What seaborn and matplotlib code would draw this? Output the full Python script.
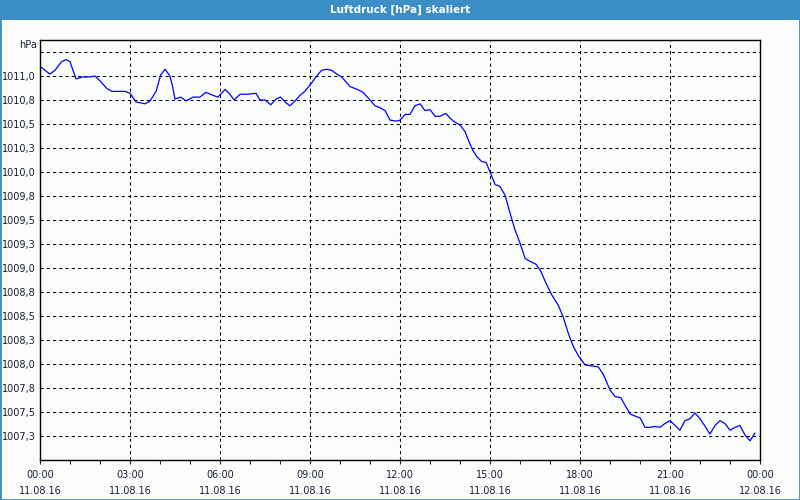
import matplotlib
matplotlib.use("Agg")
import matplotlib.pyplot as plt
from matplotlib.patches import Rectangle
from matplotlib.ticker import MultipleLocator
import seaborn as sns
import pandas as pd

# ---- data -------------------------------------------------------------
title = "Luftdruck [hPa] skaliert"
unit_label = "hPa"

hours = [0.0, 0.33, 0.5, 0.72, 0.87, 1.0, 1.2, 1.43, 1.67, 1.83, 2.0, 2.23, 2.4,
         2.67, 2.83, 3.0, 3.2, 3.5, 3.67, 3.87, 4.02, 4.17, 4.33, 4.42, 4.5,
         4.69, 4.87, 5.1, 5.33, 5.53, 5.76, 5.93, 6.17, 6.33, 6.47, 6.67, 6.93,
         7.2, 7.33, 7.5, 7.69, 7.87, 8.02, 8.2, 8.33, 8.5, 8.67, 8.83, 9.06,
         9.22, 9.39, 9.56, 9.72, 9.89, 10.06, 10.33, 10.5, 10.77, 11.0, 11.17,
         11.33, 11.5, 11.67, 11.89, 12.0, 12.17, 12.33, 12.5, 12.67, 12.83,
         13.0, 13.17, 13.33, 13.53, 13.67, 13.83, 14.0, 14.17, 14.28, 14.42,
         14.56, 14.72, 14.87, 15.0, 15.17, 15.33, 15.5, 15.67, 15.83, 16.0,
         16.17, 16.33, 16.53, 16.67, 16.87, 17.06, 17.28, 17.44, 17.61, 17.78,
         17.94, 18.17, 18.39, 18.61, 18.78, 19.0, 19.17, 19.36, 19.5, 19.67,
         19.89, 20.0, 20.17, 20.33, 20.5, 20.67, 20.83, 21.0, 21.17, 21.33,
         21.5, 21.67, 21.83, 22.0, 22.17, 22.33, 22.5, 22.67, 22.83, 23.0,
         23.17, 23.33, 23.5, 23.67, 23.83]

pressure = [1011.10, 1011.02, 1011.06, 1011.15, 1011.17, 1011.15, 1010.97,
            1010.99, 1010.99, 1011.00, 1010.95, 1010.87, 1010.84, 1010.84,
            1010.84, 1010.82, 1010.73, 1010.71, 1010.74, 1010.84, 1011.01,
            1011.07, 1011.00, 1010.89, 1010.76, 1010.78, 1010.74, 1010.78,
            1010.78, 1010.83, 1010.80, 1010.78, 1010.86, 1010.81, 1010.75,
            1010.81, 1010.81, 1010.82, 1010.75, 1010.75, 1010.70, 1010.76,
            1010.78, 1010.72, 1010.69, 1010.74, 1010.80, 1010.84, 1010.93,
            1011.00, 1011.06, 1011.07, 1011.06, 1011.02, 1010.99, 1010.89,
            1010.87, 1010.83, 1010.75, 1010.69, 1010.67, 1010.64, 1010.54,
            1010.53, 1010.54, 1010.60, 1010.60, 1010.69, 1010.71, 1010.64,
            1010.65, 1010.58, 1010.58, 1010.61, 1010.56, 1010.52, 1010.49,
            1010.42, 1010.33, 1010.23, 1010.16, 1010.11, 1010.10, 1010.00,
            1009.87, 1009.85, 1009.76, 1009.57, 1009.40, 1009.26, 1009.10,
            1009.07, 1009.04, 1008.98, 1008.84, 1008.72, 1008.61, 1008.49,
            1008.32, 1008.18, 1008.09, 1007.99, 1007.98, 1007.97, 1007.89,
            1007.73, 1007.66, 1007.65, 1007.57, 1007.48, 1007.45, 1007.44,
            1007.34, 1007.34, 1007.35, 1007.34, 1007.38, 1007.41, 1007.36,
            1007.31, 1007.41, 1007.43, 1007.49, 1007.43, 1007.35, 1007.27,
            1007.36, 1007.41, 1007.38, 1007.31, 1007.34, 1007.36, 1007.26,
            1007.20, 1007.28]

y_ticks = [1007.25, 1007.5, 1007.75, 1008.0, 1008.25, 1008.5, 1008.75,
           1009.0, 1009.25, 1009.5, 1009.75, 1010.0, 1010.25, 1010.5,
           1010.75, 1011.0, 1011.25]
y_labels = ["1007,3", "1007,5", "1007,8", "1008,0", "1008,3", "1008,5",
            "1008,8", "1009,0", "1009,3", "1009,5", "1009,8", "1010,0",
            "1010,3", "1010,5", "1010,8", "1011,0", ""]

x_ticks = [0, 3, 6, 9, 12, 15, 18, 21, 24]
x_labels = ["00:00\n11.08.16", "03:00\n11.08.16", "06:00\n11.08.16",
            "09:00\n11.08.16", "12:00\n11.08.16", "15:00\n11.08.16",
            "18:00\n11.08.16", "21:00\n11.08.16", "00:00\n12.08.16"]

# ---- style ------------------------------------------------------------
sns.set_style("white")
plt.rcParams["font.family"] = ["DejaVu Sans"]

BLUE_BAR = "#3c8fc6"
TEXT = "#1c1c3a"

fig = plt.figure(figsize=(8, 5), dpi=100)
fig.patch.set_facecolor("#fbfdfb")

# title bar
fig.patches.append(Rectangle((0, 480 / 500), 1, 20 / 500, transform=fig.transFigure,
                             facecolor=BLUE_BAR, edgecolor="none", zorder=0))
fig.text(0.5, 490 / 500, title, color="white", ha="center", va="center",
         fontsize=7.5, fontweight="bold")
# outer border
fig.patches.append(Rectangle((0, 0), 1, 1, transform=fig.transFigure, fill=False,
                             edgecolor=BLUE_BAR, linewidth=2, zorder=5))

ax = fig.add_axes([40 / 800, 40 / 500, 720 / 800, 420 / 500])
ax.set_facecolor("#fbfdfb")

df = pd.DataFrame({"h": hours, "p": pressure})
sns.lineplot(data=df, x="h", y="p", ax=ax, color="#0000ff", linewidth=0.9)

ax.set_xlim(0, 24)
ax.set_ylim(1007.0, 1011.375)

ax.set_yticks(y_ticks)
ax.set_yticklabels(y_labels)
ax.set_xticks(x_ticks)
ax.set_xticklabels(x_labels, linespacing=1.75)
ax.xaxis.set_minor_locator(MultipleLocator(1))

ax.grid(True, which="major", color="black", linewidth=0.75, linestyle=(0, (3, 3)))
ax.set_axisbelow(True)

for s in ax.spines.values():
    s.set_visible(True)
    s.set_color("black")
    s.set_linewidth(1.0)

ax.tick_params(axis="y", which="both", length=0, pad=3, labelsize=7, labelcolor=TEXT)
ax.tick_params(axis="x", which="major", length=3, width=0.8, direction="out",
               pad=4, labelsize=7, labelcolor=TEXT, bottom=True)
ax.tick_params(axis="x", which="minor", length=3, width=0.8, direction="out",
               bottom=True)

ax.set_xlabel("")
ax.set_ylabel("")

fig.text(37 / 800, 1 - 45 / 500, unit_label, ha="right", va="center",
         fontsize=7, color=TEXT)

fig.savefig("out.png", dpi=100, facecolor=fig.get_facecolor())
